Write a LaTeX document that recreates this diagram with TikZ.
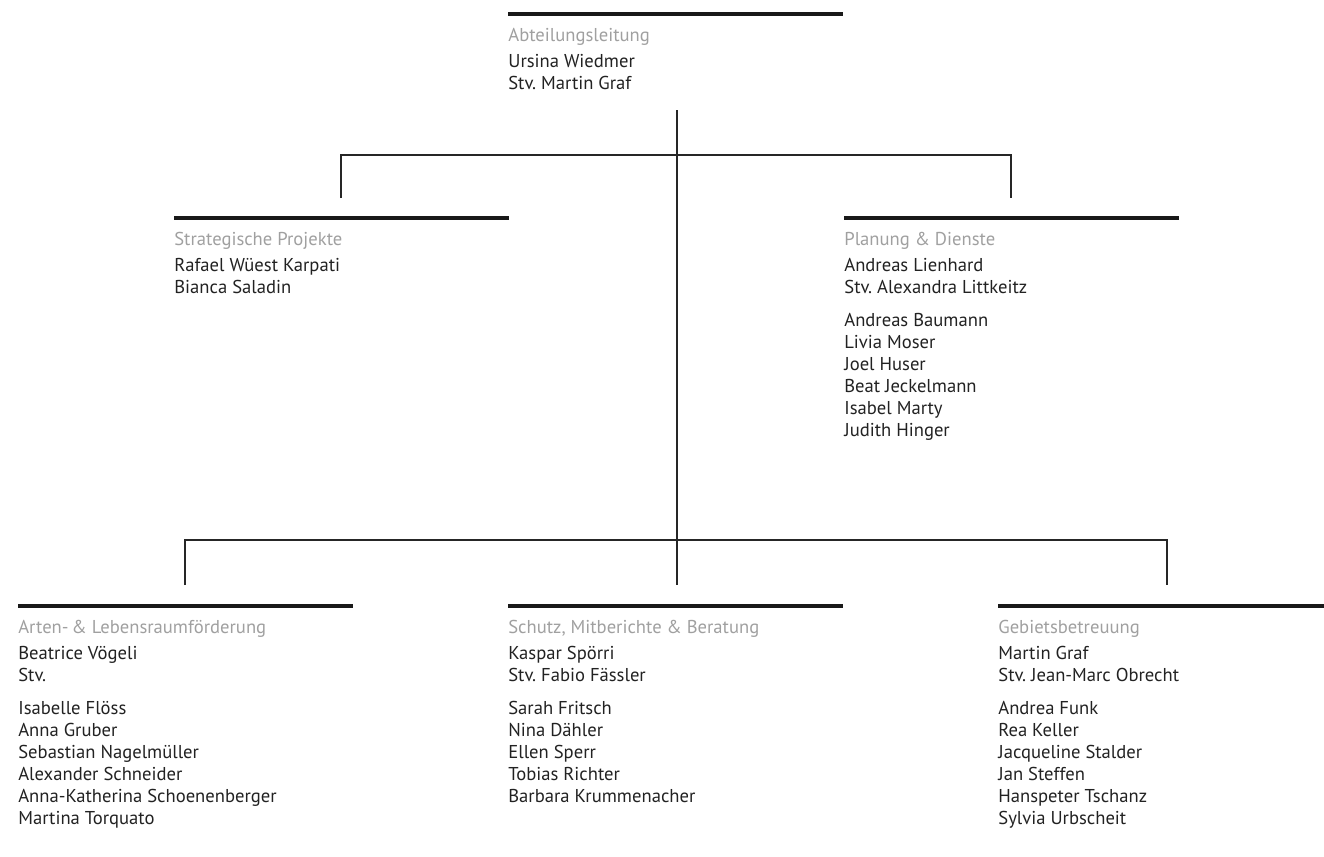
\documentclass[tikz,border=0pt]{standalone}
\usepackage{fontspec}
\setmainfont{PT Sans}
\frenchspacing
\definecolor{titlegray}{HTML}{A0A0A0}
\definecolor{namegray}{HTML}{222222}
\tikzset{
  bar/.style={line width=2.6pt, draw=black!90},
  conn/.style={line width=0.8pt, draw=black!85},
  unit/.style={anchor=north west, inner sep=0pt, align=left, text=namegray,
    font=\fontsize{10.6}{12.47}\selectfont},
}
\newcommand{\unittitle}[1]{\textcolor{titlegray}{#1}\\[2.5pt]}
\newcommand{\gap}{\\[6.2pt]}

\begin{document}
\begin{tikzpicture}[x=0.02cm, y=-0.02cm]
  \useasboundingbox (0,0) rectangle (1324,856);
  % bars
  \draw[bar] (508,14) -- ++(335,0);
  \draw[bar] (174,218) -- ++(335,0);
  \draw[bar] (844,218) -- ++(335,0);
  \draw[bar] (18,606) -- ++(335,0);
  \draw[bar] (508,606) -- ++(335,0);
  \draw[bar] (998,606) -- ++(338,0);
  % units
  \node[unit] (ab) at (508,28) {\unittitle{Abteilungsleitung}Ursina Wiedmer\\Stv. Martin Graf};
  \node[unit] (sp) at (174,232) {\unittitle{Strategische Projekte}Rafael Wüest Karpati\\Bianca Saladin};
  \node[unit] (pd) at (844,232) {\unittitle{Planung \& Dienste}Andreas Lienhard\\Stv. Alexandra Littkeitz\gap
    Andreas Baumann\\Livia Moser\\Joel Huser\\Beat Jeckelmann\\Isabel Marty\\Judith Hinger};
  \node[unit] (ar) at (18,620) {\unittitle{Arten-\,\& Lebensraumförderung}Beatrice Vögeli\\Stv.\gap
    Isabelle Flöss\\Anna Gruber\\Sebastian Nagelmüller\\Alexander Schneider\\Anna-Katherina Schoenenberger\\Martina Torquato};
  \node[unit] (sc) at (508,620) {\unittitle{Schutz, Mitberichte \& Beratung}Kaspar Spörri\\Stv. Fabio Fässler\gap
    Sarah Fritsch\\Nina Dähler\\Ellen Sperr\\Tobias Richter\\Barbara Krummenacher};
  \node[unit] (gb) at (998,620) {\unittitle{Gebietsbetreuung}Martin Graf\\Stv. Jean-Marc Obrecht\gap
    Andrea Funk\\Rea Keller\\Jacqueline Stalder\\Jan Steffen\\Hanspeter Tschanz\\Sylvia Urbscheit};
  % connectors
  \coordinate (about) at (677,110);
  \coordinate (hubtop) at (677,155);
  \coordinate (hubbot) at (677,540);
  \coordinate (spin) at (341,198);
  \coordinate (pdin) at (1011,198);
  \coordinate (arin) at (185,585);
  \coordinate (scin) at (677,585);
  \coordinate (gbin) at (1167,585);
  \draw[conn] (about) -- (scin);
  \draw[conn] (spin) |- (hubtop) -| (pdin);
  \draw[conn] (arin) |- (hubbot) -| (gbin);
\end{tikzpicture}
\end{document}
